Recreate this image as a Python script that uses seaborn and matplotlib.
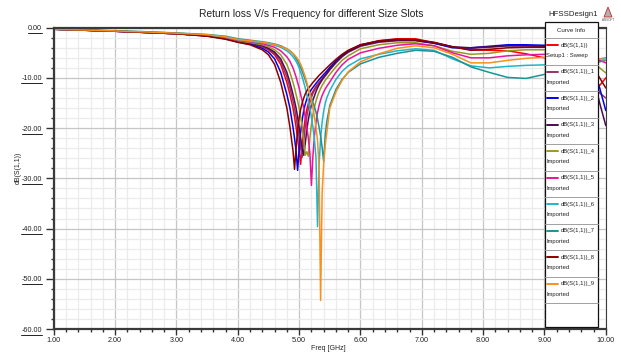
import numpy as np
import pandas as pd
import matplotlib
matplotlib.use('Agg')
import matplotlib.pyplot as plt
from matplotlib.ticker import MultipleLocator, FormatStrFormatter
from matplotlib.patches import Rectangle, Polygon
from matplotlib.lines import Line2D
import seaborn as sns

# ---- data (freq in GHz, S11 in dB) ----
freq = [1.0, 1.5, 2.0, 2.5, 3.0, 3.5, 3.8, 4.0, 4.2, 4.4,
        4.5, 4.6, 4.7, 4.8, 4.85, 4.9, 4.925, 4.95, 4.975, 5.0,
        5.025, 5.05, 5.075, 5.1, 5.125, 5.15, 5.175, 5.2, 5.225, 5.25,
        5.275, 5.3, 5.325, 5.35, 5.375, 5.4, 5.425, 5.45, 5.5, 5.6,
        5.7, 5.8, 6.0, 6.3, 6.6, 6.9, 7.2, 7.5, 7.8, 8.1,
        8.4, 8.7, 9.0, 9.3, 9.6, 9.8, 9.9, 10.0]

s11_sweep = [-0.3, -0.5, -0.7, -0.95, -1.2, -1.6, -2.15, -2.8, -3.15, -3.8,
             -4.4, -5.4, -7.3, -10.9, -13.3, -16.0, -17.8, -19.8, -22.0, -24.3,
             -27.2, -23.5, -20.3, -18.0, -16.3, -15.1, -14.1, -13.3, -12.7, -12.2,
             -11.7, -11.3, -10.9, -10.5, -10.15, -9.8, -9.45, -9.1, -8.2, -6.8,
             -5.6, -4.7, -3.5, -2.6, -2.2, -2.2, -3.0, -3.8, -4.4, -4.5,
             -4.6, -5.2, -6.0, -6.6, -8.0, -10.5, -11.5, -10.0]
s11_1 = [-0.3, -0.5, -0.7, -0.95, -1.2, -1.6, -2.1, -2.75, -3.1, -3.7,
         -4.25, -5.1, -6.7, -9.8, -12.0, -14.6, -16.0, -17.8, -19.8, -22.0,
         -24.0, -25.8, -22.5, -19.8, -17.7, -16.1, -14.9, -13.9, -13.1, -12.5,
         -12.0, -11.5, -11.1, -10.7, -10.3, -9.95, -9.6, -9.25, -8.4, -7.0,
         -5.8, -4.9, -3.7, -2.9, -2.6, -2.6, -3.1, -3.9, -4.1, -3.9,
         -3.6, -3.6, -3.8, -4.5, -6.5, -10.0, -13.0, -14.0]
s11_2 = [-0.3, -0.5, -0.7, -0.95, -1.2, -1.65, -2.2, -2.85, -3.3, -4.1,
         -4.85, -6.2, -8.9, -13.3, -16.0, -19.8, -22.0, -24.5, -28.4, -24.2,
         -20.8, -18.3, -16.5, -15.2, -14.2, -13.4, -12.8, -12.3, -11.9, -11.5,
         -11.1, -10.7, -10.35, -10.0, -9.65, -9.3, -9.0, -8.65, -7.9, -6.6,
         -5.5, -4.6, -3.4, -2.7, -2.4, -2.5, -3.1, -4.0, -4.0, -3.7,
         -3.4, -3.4, -3.5, -4.0, -5.5, -8.5, -12.0, -16.5]
s11_3 = [-0.3, -0.5, -0.7, -0.95, -1.2, -1.6, -2.1, -2.7, -3.05, -3.6,
         -4.1, -4.85, -6.2, -8.9, -10.9, -13.3, -14.6, -16.0, -17.8, -19.8,
         -22.0, -24.0, -25.4, -23.0, -20.4, -18.3, -16.7, -15.4, -14.4, -13.6,
         -12.7, -12.0, -11.4, -10.9, -10.4, -9.9, -9.5, -9.1, -8.3, -6.9,
         -5.7, -4.8, -3.6, -2.8, -2.5, -2.5, -3.0, -3.8, -4.0, -3.8,
         -3.6, -3.6, -3.7, -4.2, -6.0, -10.0, -15.0, -19.5]
s11_4 = [-0.3, -0.5, -0.7, -0.95, -1.2, -1.55, -2.05, -2.65, -2.95, -3.4,
         -3.8, -4.4, -5.4, -7.3, -8.9, -10.9, -12.0, -13.3, -14.6, -16.0,
         -17.8, -19.8, -22.3, -25.4, -24.7, -25.6, -22.0, -19.3, -17.3, -15.8,
         -14.6, -13.6, -12.8, -12.1, -11.5, -11.0, -10.5, -10.1, -9.3, -7.8,
         -6.5, -5.6, -4.2, -3.4, -3.0, -3.0, -3.6, -4.7, -5.3, -5.1,
         -4.6, -4.4, -4.4, -4.6, -5.5, -7.0, -8.0, -9.0]
s11_5 = [-0.3, -0.5, -0.7, -0.9, -1.15, -1.5, -1.95, -2.55, -2.8, -3.2,
         -3.5, -3.9, -4.6, -5.8, -6.7, -8.0, -8.9, -9.8, -10.9, -12.0,
         -13.3, -14.6, -16.0, -17.8, -19.8, -22.0, -25.0, -31.4, -25.5, -21.5,
         -18.8, -16.9, -15.5, -14.4, -13.5, -12.8, -12.2, -11.7, -10.8, -8.9,
         -7.4, -6.3, -5.0, -4.1, -3.5, -3.2, -3.6, -5.0, -6.0, -6.0,
         -5.6, -5.4, -5.3, -5.3, -5.5, -6.0, -6.5, -7.0]
s11_6 = [-0.3, -0.45, -0.65, -0.85, -1.1, -1.45, -1.85, -2.4, -2.7, -3.0,
         -3.2, -3.5, -3.9, -4.6, -5.1, -5.8, -6.2, -6.7, -7.3, -8.0,
         -8.9, -9.8, -10.9, -12.0, -13.3, -14.6, -16.0, -17.8, -19.8, -22.3,
         -26.0, -39.6, -27.5, -22.0, -18.8, -16.6, -15.1, -14.0, -12.5, -10.3,
         -8.7, -7.6, -6.2, -5.3, -4.6, -4.2, -4.5, -6.2, -7.6, -8.0,
         -7.7, -7.5, -7.4, -7.0, -6.7, -6.4, -6.2, -6.0]
s11_7 = [-0.3, -0.45, -0.6, -0.8, -1.05, -1.35, -1.7, -2.2, -2.5, -2.8,
         -3.0, -3.25, -3.6, -4.2, -4.6, -5.2, -5.6, -6.1, -6.6, -7.2,
         -7.9, -8.7, -9.5, -10.4, -11.3, -12.2, -13.1, -14.0, -14.9, -15.8,
         -16.8, -18.2, -19.8, -21.6, -23.8, -26.7, -21.5, -18.8, -15.5, -12.3,
         -10.3, -8.9, -7.2, -5.9, -5.1, -4.5, -4.7, -5.9, -7.8, -8.9,
         -9.9, -10.1, -9.3, -8.5, -7.5, -7.0, -6.8, -6.5]
s11_8 = [-0.3, -0.5, -0.7, -0.95, -1.2, -1.7, -2.3, -2.9, -3.4, -4.4,
         -5.4, -7.3, -10.9, -16.0, -19.8, -24.5, -28.2, -24.0, -20.5, -18.0,
         -16.2, -15.0, -14.0, -13.2, -12.6, -12.1, -11.7, -11.3, -10.9, -10.55,
         -10.2, -9.85, -9.5, -9.2, -8.9, -8.6, -8.3, -8.0, -7.4, -6.3,
         -5.3, -4.5, -3.4, -2.6, -2.3, -2.4, -2.9, -3.8, -4.5, -4.3,
         -4.0, -3.9, -3.9, -4.3, -5.5, -8.0, -10.0, -12.0]
s11_9 = [-0.3, -0.45, -0.65, -0.85, -1.1, -1.4, -1.8, -2.35, -2.6, -2.9,
         -3.1, -3.35, -3.7, -4.25, -4.6, -5.1, -5.45, -5.8, -6.2, -6.7,
         -7.3, -8.0, -8.9, -9.8, -10.9, -12.0, -13.3, -14.6, -16.0, -17.8,
         -19.8, -22.5, -27.5, -54.3, -33.0, -27.0, -23.5, -21.0, -16.0, -12.8,
         -10.5, -8.8, -6.8, -5.2, -4.1, -3.6, -4.0, -5.3, -7.0, -7.0,
         -6.5, -6.1, -5.9, -5.8, -5.8, -6.0, -6.2, -6.4]

curve_names = ['dB(S(1,1))', 'dB(S(1,1))_1', 'dB(S(1,1))_2', 'dB(S(1,1))_3',
               'dB(S(1,1))_4', 'dB(S(1,1))_5', 'dB(S(1,1))_6', 'dB(S(1,1))_7',
               'dB(S(1,1))_8', 'dB(S(1,1))_9']
curve_sources = ['Setup1 : Sweep'] + ['Imported'] * 9
curve_values = [s11_sweep, s11_1, s11_2, s11_3, s11_4, s11_5, s11_6, s11_7, s11_8, s11_9]
curve_colors = ['#FF0000', '#993366', '#0000F0', '#4B0A55', '#999922',
                '#E8159A', '#22B4CC', '#1A9494', '#8B0000', '#F7901E']

x_ticks = [1, 2, 3, 4, 5, 6, 7, 8, 9, 10]
y_ticks = [0, -10, -20, -30, -40, -50, -60]

df = pd.DataFrame({
    'freq': freq * len(curve_names),
    'db': np.concatenate(curve_values),
    'curve': np.repeat(curve_names, len(freq)),
})

sns.set_style('white')
plt.rcParams['font.family'] = ['Liberation Sans', 'DejaVu Sans']

W, H = 621, 355
fig = plt.figure(figsize=(W / 100, H / 100), dpi=100)
fig.patch.set_facecolor('white')


def fx(x):
    return x / W


def fy(y):
    return 1 - y / H


ax = fig.add_axes([fx(53.8), fy(329), (605.8 - 53.8) / W, (329 - 27.7) / H])

sns.lineplot(data=df, x='freq', y='db', hue='curve', hue_order=curve_names,
             palette=dict(zip(curve_names, curve_colors)), estimator=None,
             sort=False, linewidth=1.1, legend=False, ax=ax)

ax.set_xlim(1, 10)
ax.set_ylim(-60, 0)
ax.set_xticks(x_ticks)
ax.set_yticks(y_ticks)
ax.xaxis.set_minor_locator(MultipleLocator(0.2))
ax.yaxis.set_minor_locator(MultipleLocator(2))
ax.xaxis.set_major_formatter(FormatStrFormatter('%.2f'))
ax.yaxis.set_major_formatter(FormatStrFormatter('%.2f'))
ax.set_xlabel('')
ax.set_ylabel('')
ax.set_axisbelow(True)
ax.grid(which='minor', color='#ebebeb', linewidth=0.9)
ax.grid(which='major', color='#c6c6c6', linewidth=0.9)
ax.tick_params(which='major', direction='out', width=1, color='#333333',
               labelsize=5.2, labelcolor='#222222', left=True, bottom=True)
ax.tick_params(axis='y', which='major', length=6, pad=2.5)
ax.tick_params(axis='x', which='major', length=4, pad=1.5)
ax.tick_params(which='minor', direction='out', length=2.5, width=1, color='#333333',
               left=True, bottom=True)
for side, lw in [('left', 1.6), ('bottom', 1.6), ('top', 1.6), ('right', 0.8)]:
    ax.spines[side].set_color('#3a3a3a')
    ax.spines[side].set_linewidth(lw)

# titles and axis names
fig.text(fx(311), fy(14), 'Return loss V/s Frequency for different Size Slots',
         ha='center', va='center', fontsize=7.4, color='#222222')
fig.text(fx(573), fy(14), 'HFSSDesign1', ha='center', va='center', fontsize=5.6,
         color='#222222')
fig.text(fx(18), fy(168), 'dB(S(1,1))', rotation=90, ha='center', va='center',
         fontsize=5, color='#222222')
fig.text(fx(328), fy(348), 'Freq [GHz]', ha='center', va='center', fontsize=5,
         color='#222222')

# small Ansoft logo
fig.add_artist(Polygon([[fx(604), fy(17)], [fx(612), fy(17)], [fx(608), fy(7)]],
                       closed=True, facecolor='#b0b0b0', edgecolor='#c03030', lw=0.6))
fig.text(fx(608), fy(20), 'ANSOFT', ha='center', va='center', fontsize=2.2,
         color='#555555')

# Curve Info box (HFSS style legend)
lx0, lx1, ly0, ly1 = 545, 598, 22, 327
fig.add_artist(Rectangle((fx(lx0), fy(ly1)), (lx1 - lx0) / W, (ly1 - ly0) / H,
                         facecolor='white', edgecolor='#111111', lw=0.9, zorder=5))
fig.text(fx((lx0 + lx1) / 2), fy(30.5), 'Curve Info', ha='center', va='center',
         fontsize=4.4, color='#222222', zorder=6)
row_h = 26.5
top = 38.3
fig.add_artist(Line2D([fx(lx0), fx(lx1)], [fy(top), fy(top)], color='#a0a0a0', lw=0.7, zorder=6))
for i, (name, src, col) in enumerate(zip(curve_names, curve_sources, curve_colors)):
    y0 = top + i * row_h
    fig.add_artist(Line2D([fx(547), fx(558)], [fy(y0 + 7), fy(y0 + 7)], color=col,
                          lw=1.4, zorder=6))
    fig.text(fx(561), fy(y0 + 7), name, ha='left', va='center', fontsize=4.2,
             color='#222222', zorder=6)
    fig.text(fx(546.5), fy(y0 + 17.5), src, ha='left', va='center', fontsize=4.2,
             color='#222222', zorder=6)
    fig.add_artist(Line2D([fx(lx0), fx(lx1)], [fy(y0 + row_h), fy(y0 + row_h)],
                          color='#a0a0a0', lw=0.7, zorder=6))

# underline the y tick labels like HFSS does
fig.canvas.draw()
inv = fig.transFigure.inverted()
for lbl in ax.get_yticklabels():
    bb = lbl.get_window_extent()
    (a, b), (c, d) = inv.transform([[bb.x0, bb.y0 - 1.0], [bb.x1, bb.y0 - 1.0]])
    fig.add_artist(Line2D([a, c], [b, d], color='#222222', lw=0.7))

fig.savefig('out.png', dpi=100, facecolor='white')
